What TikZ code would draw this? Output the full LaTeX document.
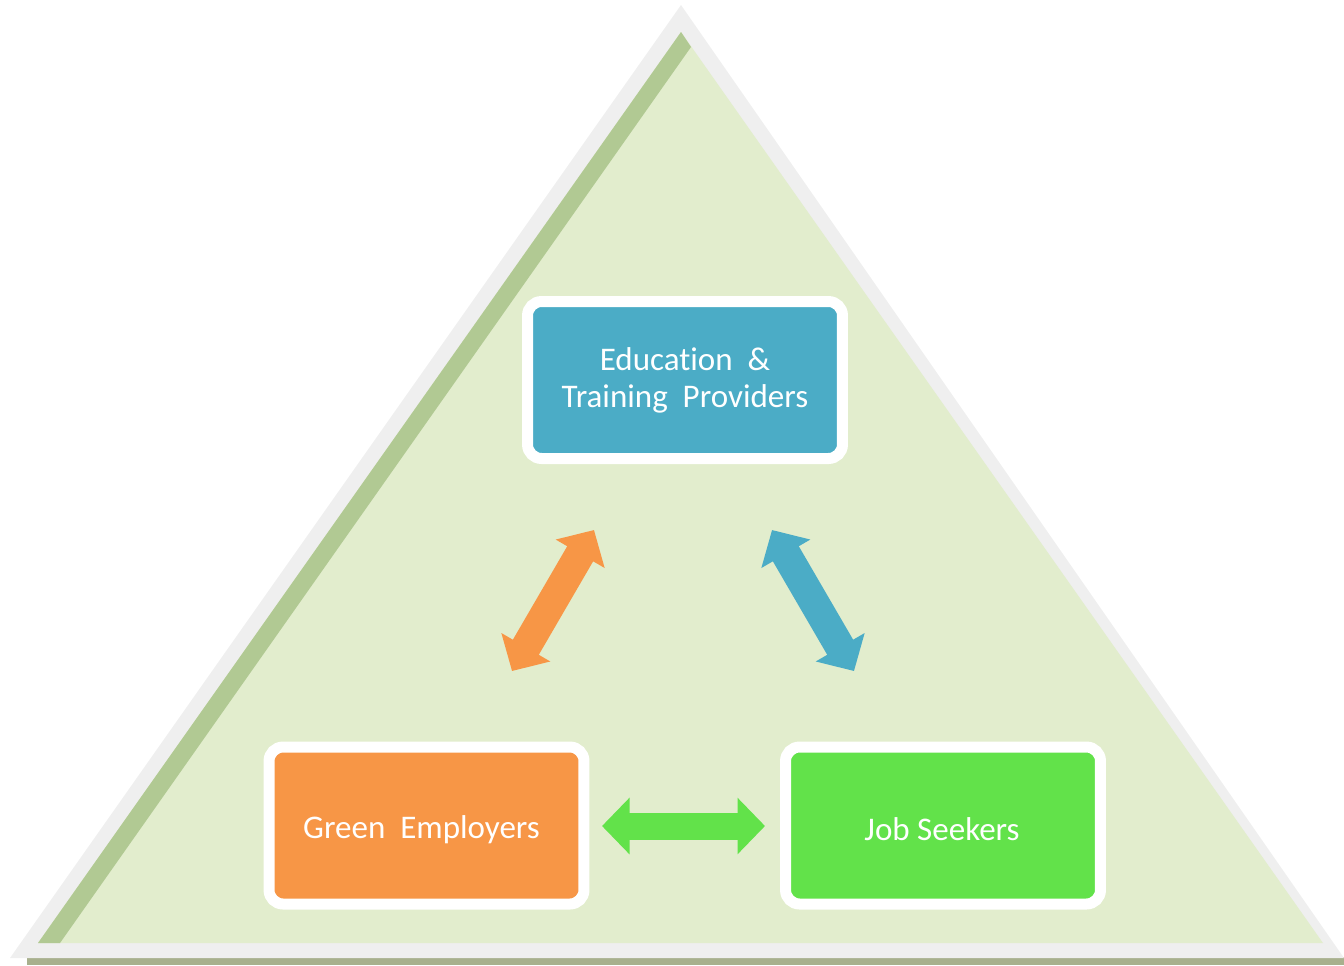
\documentclass[tikz,border=0pt]{standalone}
\usepackage{fontspec}
\setmainfont{Carlito}[Ligatures={NoCommon}]
\usetikzlibrary{arrows.meta}

\definecolor{triframe}{HTML}{EFEFEF}
\definecolor{trifill}{HTML}{E2EDCD}
\definecolor{triedge}{HTML}{B1C993}
\definecolor{shadowbar}{HTML}{A8B08D}
\definecolor{edublue}{HTML}{4BACC6}
\definecolor{emporange}{HTML}{F79646}
\definecolor{seekgreen}{HTML}{62E24A}

\tikzset{
  actor/.style={rectangle, rounded corners=0.28cm, draw=white, line width=0.22cm, inner sep=0pt,
    minimum width=6.3cm, minimum height=3.14cm},
  actortext/.style={text=white, align=center, inner sep=0pt, font=\fontsize{18.8}{21}\selectfont},
  link/.style={line width=0.6cm, {Triangle[length=0.55cm, width=1.1cm]}-{Triangle[length=0.55cm, width=1.1cm]}}
}

\begin{document}
\begin{tikzpicture}[x=0.02cm, y=-0.02cm]

\useasboundingbox (0,0) rectangle (1344,965);

\fill [shadowbar] (27,957) rectangle (1344,965);
\fill [triframe] (681,5) -- (1344,958) -- (10,958) -- cycle;
\fill [trifill] (681,32) -- (1323,943) -- (38,943) -- cycle;
\fill [triedge] (681,32) -- (38,943) -- (60,943) -- (691,47) -- cycle;

\draw (685,380) node (etp) [actor, fill=edublue] {};
\draw (etp) node (etptext) [actortext] {Education\ \ \&\\Training\ \ Providers};

\draw (426.5,825.5) node (emp) [actor, fill=emporange] {};
\draw (emp) ++(-5,4) node (emptext) [actortext] {Green\ \ Employers};

\draw (943,825.5) node (seek) [actor, fill=seekgreen] {};
\draw (seek) ++(-1,4) node (seektext) [actortext] {Job Seekers};

\coordinate (empup) at (512,671);
\coordinate (etpleft) at (594,530);
\coordinate (etpright) at (772,530);
\coordinate (seekup) at (854,671);
\coordinate (empright) at (602,826);
\coordinate (seekleft) at (765,826);

\draw [link, emporange] (empup) -- (etpleft);
\draw [link, edublue] (etpright) -- (seekup);
\draw [link, seekgreen, line width=0.54cm] (empright) -- (seekleft);

\end{tikzpicture}
\end{document}
